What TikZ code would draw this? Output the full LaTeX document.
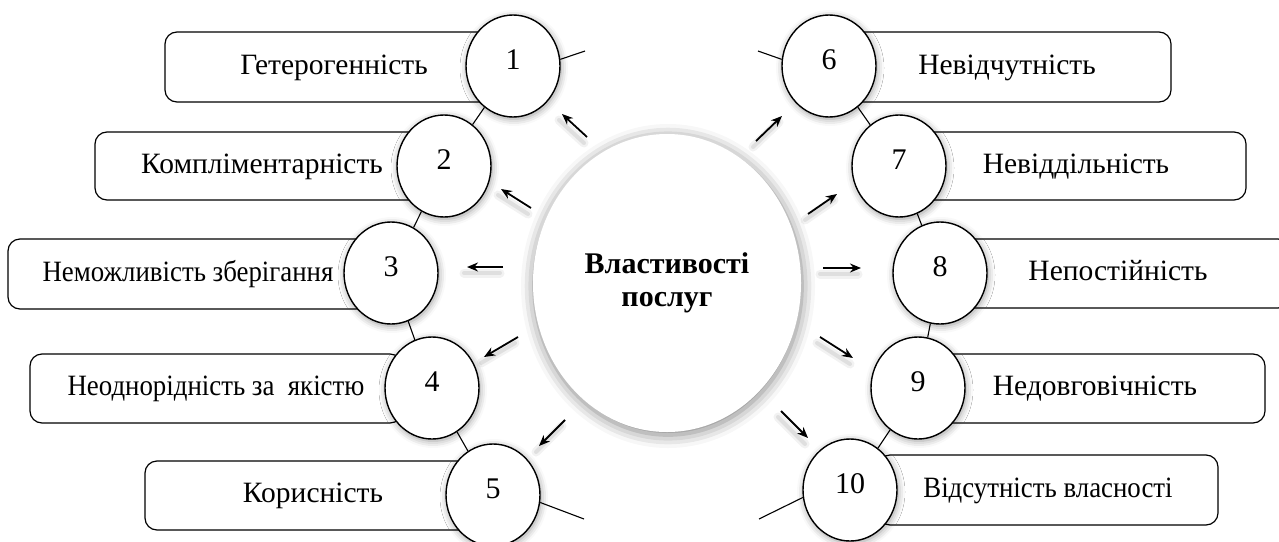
\documentclass[tikz,border=0pt]{standalone}
\usepackage{fontspec}
\setmainfont{Liberation Serif}
\usetikzlibrary{shapes.geometric,arrows.meta,shadows.blur}
\newcommand{\cond}[1]{\scalebox{0.91}[1]{#1}}
\begin{document}
\begin{tikzpicture}[x=1pt,y=-1pt,
  num/.style={ellipse,draw,line width=1.4pt,fill=white,minimum width=94pt,minimum height=102pt,inner sep=0pt,
    font=\fontsize{30}{32}\selectfont,text height=20pt,text depth=14pt,
    blur shadow={shadow xshift=1pt,shadow yshift=-2pt,shadow blur radius=7pt,shadow opacity=40}},
  box/.style={draw,line width=1.2pt,rounded corners=12pt,fill=white,inner sep=0pt,
    font=\fontsize{29.5}{31}\selectfont,text height=20pt,text depth=6pt},
  ring/.style={line width=1.1pt},
  arr/.style={line width=1.8pt,-{Stealth[length=11pt,width=9pt]}},
  arrsha/.style={line width=9pt,draw=black,opacity=0.05,line cap=round,transform canvas={shift={(-3pt,-6pt)}}},
  arrshb/.style={line width=4pt,draw=black,opacity=0.08,line cap=round,transform canvas={shift={(-3pt,-6pt)}}},
]
\useasboundingbox (0,0) rectangle (1279,541);
\clip (0,0) rectangle (1279,541);

% centre
\node[ellipse,fill=white,minimum width=268pt,minimum height=298pt,inner sep=0pt,align=center,
  font=\fontsize{30}{33}\selectfont\bfseries,
  blur shadow={shadow xshift=1pt,shadow yshift=-3pt,shadow blur radius=13pt,shadow opacity=50}]
  (C) at (667,283) {Властивості\\послуг};

% boxes
\node[box,minimum width=338pt,minimum height=70pt] (b1) at (334,67) {Гетерогенність};
\node[box,minimum width=334pt,minimum height=68pt] (b2) at (262,166) {Компліментарність};
\node[box,minimum width=360pt,minimum height=70pt] (b3) at (188,274) {\cond{Неможливість зберігання}};
\node[box,minimum width=372pt,minimum height=69pt] (b4) at (216,388.5) {\cond{Неоднорідність за\ \ якістю}};
\node[box,minimum width=336pt,minimum height=69pt] (b5) at (313,495.5) {Корисність};
\node[box,minimum width=328pt,minimum height=70pt] (b6) at (1007,67) {Невідчутність};
\node[box,minimum width=340pt,minimum height=68pt] (b7) at (1076,166) {Невіддільність};
\node[box,minimum width=344pt,minimum height=69pt] (b8) at (1118,273.5) {Непостійність};
\node[box,minimum width=340pt,minimum height=69pt] (b9) at (1095,388.5) {Недовговічність};
\node[box,minimum width=340pt,minimum height=70pt] (b10) at (1048,490) {\cond{Відсутність власності}};

% numbered circles
\node[num] (c1) at (513,66) {1};
\node[num] (c2) at (444,166) {2};
\node[num] (c3) at (391,273) {3};
\node[num] (c4) at (432,388) {4};
\node[num] (c5) at (493,495) {5};
\node[num] (c6) at (829,66) {6};
\node[num] (c7) at (899,166) {7};
\node[num] (c8) at (940,273) {8};
\node[num] (c9) at (918,388) {9};
\node[num] (c10) at (850,490) {10};

% ring
\coordinate (s1) at (585,51);
\coordinate (s6) at (758,51);
\coordinate (s5) at (584,519);
\coordinate (s10) at (759,519);
\draw[ring] (c1) -- (c2);
\draw[ring] (c2) -- (c3);
\draw[ring] (c3) -- (c4);
\draw[ring] (c4) -- (c5);
\draw[ring] (c6) -- (c7);
\draw[ring] (c7) -- (c8);
\draw[ring] (c8) -- (c9);
\draw[ring] (c9) -- (c10);
\draw[ring] (c1.8) -- (s1);
\draw[ring] (c6.172) -- (s6);
\draw[ring] (c5.-9) -- (s5);
\draw[ring] (c10.-171) -- (s10);

% arrows
\coordinate (t1) at (587,137);  \coordinate (h1) at (562,114);
\coordinate (t2) at (531,208);  \coordinate (h2) at (501,189);
\coordinate (t3) at (503,267);  \coordinate (h3) at (467,267);
\coordinate (t4) at (518,337);  \coordinate (h4) at (484,357);
\coordinate (t5) at (565,420);  \coordinate (h5) at (539,446);
\coordinate (t6) at (756,141);  \coordinate (h6) at (782,116);
\coordinate (t7) at (808,214);  \coordinate (h7) at (837,194);
\coordinate (t8) at (823,268);  \coordinate (h8) at (861,268);
\coordinate (t9) at (820,337);  \coordinate (h9) at (853,358);
\coordinate (t10) at (781,411); \coordinate (h10) at (808,438);
\foreach \i in {1,...,10} {
  \draw[arrsha] (t\i) -- (h\i);
  \draw[arrshb] (t\i) -- (h\i);
  \draw[arr] (t\i) -- (h\i);
}
\end{tikzpicture}
\end{document}
